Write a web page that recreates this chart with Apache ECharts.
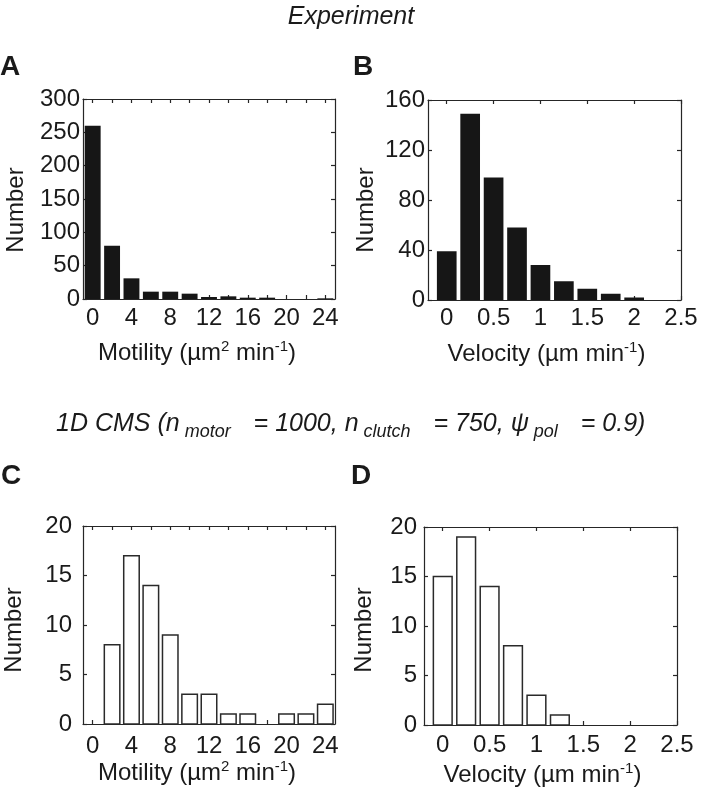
<!DOCTYPE html>
<html><head><meta charset="utf-8">
<script src="https://cdn.jsdelivr.net/npm/echarts@6.0.0/dist/echarts.min.js"></script>
<style>html,body{margin:0;padding:0;background:#fff}#c{width:702px;height:789px}</style>
</head><body><div id="c"></div>
<script>
// ---- data ----
const motilityBins = [0, 2, 4, 6, 8, 10, 12, 14, 16, 18, 20, 22, 24];
const expMotilityCounts = [260, 80, 31, 11, 11, 8, 3, 4, 2, 2, 0, 0, 1];
const simMotilityCounts = [0, 8, 17, 14, 9, 3, 3, 1, 1, 0, 1, 1, 2];
const velocityBins = [0, 0.25, 0.5, 0.75, 1.0, 1.25, 1.5, 1.75, 2.0];
const expVelocityCounts = [39, 149, 98, 58, 28, 15, 9, 5, 2];
const simVelocityCounts = [15, 19, 14, 8, 3, 1, 0, 0, 0];
const motilityTickLabels = [0, 4, 8, 12, 16, 20, 24];
const motilityTicks = [0, 2, 4, 6, 8, 10, 12, 14, 16, 18, 20, 22, 24];
const velocityTickLabels = [0, 0.5, 1, 1.5, 2, 2.5];
const velocityTicks = [0, 0.5, 1, 1.5, 2, 2.5];
const motilityBinWidth = 2;
const velocityBinWidth = 0.25;

const FONT = "'Liberation Sans', Arial, Helvetica, sans-serif";
const INK = '#1a1a1a';
const AXIS = '#262626';
const FS = 24;

function pairs(xs, ys) { return xs.map((x, i) => [x, ys[i]]); }

function histSeries(gridIdx, xs, ys, binW, frac, style) {
  return {
    type: 'custom', xAxisIndex: gridIdx * 2, yAxisIndex: gridIdx * 2,
    data: pairs(xs, ys), encode: { x: 0, y: 1 }, clip: false, z: 1,
    renderItem: function (params, api) {
      const x = api.value(0), y = api.value(1);
      if (!y) return null;
      const p0 = api.coord([x - binW * frac / 2, y]);
      const p1 = api.coord([x + binW * frac / 2, 0]);
      return { type: 'rect', shape: { x: p0[0], y: p0[1], width: p1[0] - p0[0], height: p1[1] - p0[1] }, style: style };
    }
  };
}

const nameRich = {
  a: { fontSize: FS, lineHeight: 28, fontFamily: FONT, color: INK },
  p: { fontSize: 15, lineHeight: 21, verticalAlign: 'top', fontFamily: FONT, color: INK }
};
const motilityName = '{a|Motility (µm}{p|2}{a| min}{p|-1}{a|)}';
const velocityName = '{a|Velocity (µm min}{p|-1}{a|)}';

const axLine = { show: true, onZero: false, lineStyle: { color: AXIS, width: 1.2 } };
const tickStyle = { color: AXIS, width: 1.2 };

function xAxesFor(g, min, max, labels, ticks, name, nameGap, margin, shift) {
  return [
    { gridIndex: g, type: 'value', position: 'bottom', min: min, max: max,
      axisLine: axLine, splitLine: { show: false },
      axisTick: { show: true, inside: true, length: 4, customValues: ticks, lineStyle: tickStyle },
      axisLabel: { show: true, customValues: labels, margin: margin, fontSize: FS, fontFamily: FONT, color: INK },
      name: name, nameLocation: 'middle', nameGap: nameGap,
      nameTextStyle: { rich: nameRich, padding: [0, shift * 2, 0, 0] } },
    { gridIndex: g, type: 'value', position: 'top', min: min, max: max,
      axisLine: axLine, splitLine: { show: false },
      axisTick: { show: true, inside: true, length: 4, customValues: ticks, lineStyle: tickStyle },
      axisLabel: { show: false } }
  ];
}
function yAxesFor(g, max, interval, nameGap, margin, shift) {
  return [
    { gridIndex: g, type: 'value', position: 'left', min: 0, max: max, interval: interval,
      axisLine: axLine, splitLine: { show: false },
      axisTick: { show: true, inside: true, length: 4, lineStyle: tickStyle },
      axisLabel: { margin: margin, fontSize: FS, fontFamily: FONT, color: INK },
      name: 'Number', nameLocation: 'middle', nameGap: nameGap,
      nameTextStyle: { fontSize: FS, fontFamily: FONT, color: INK, padding: [0, shift * 2, 0, 0] } },
    { gridIndex: g, type: 'value', position: 'right', min: 0, max: max, interval: interval,
      axisLine: axLine, splitLine: { show: false },
      axisTick: { show: true, inside: true, length: 4, lineStyle: tickStyle },
      axisLabel: { show: false } }
  ];
}

const filled = { fill: '#161616', stroke: null };
const hollow = { fill: '#ffffff', stroke: '#2a2a2a', lineWidth: 1.5 };

const panelLetter = (t, left, top) => ({ text: t, left: left, top: top, padding: 0,
  textStyle: { fontSize: 28, fontWeight: 'bold', fontFamily: FONT, color: INK } });

const option = {
  backgroundColor: '#ffffff',
  animation: false,
  title: [
    { text: 'Experiment', left: 'center', top: 5, padding: 0,
      textStyle: { fontStyle: 'italic', fontWeight: 'normal', fontSize: 25, fontFamily: FONT, color: INK } },
    { text: '{t|1D CMS (n}{s|motor}{t| = 1000, n}{s|clutch}{t| = 750, ψ}{s|pol}{t| = 0.9)}',
      left: 56, top: 407, padding: 0,
      textStyle: { fontWeight: 'normal', rich: {
        t: { fontSize: 25, lineHeight: 34, fontStyle: 'italic', fontWeight: 'normal', fontFamily: FONT, color: INK },
        s: { fontSize: 18, lineHeight: 18, verticalAlign: 'bottom', fontStyle: 'italic', fontWeight: 'normal', fontFamily: FONT, color: INK, padding: [0, 16, 0, 5] }
      } } },
    panelLetter('A', 0, 53),
    panelLetter('B', 353, 53),
    panelLetter('C', 1, 462),
    panelLetter('D', 351, 462)
  ],
  grid: [
    { left: 83, top: 99, width: 252, height: 200, outerBoundsMode: 'none', containLabel: false },
    { left: 428, top: 100, width: 253, height: 200, outerBoundsMode: 'none', containLabel: false },
    { left: 83, top: 526, width: 252, height: 198, outerBoundsMode: 'none', containLabel: false },
    { left: 424, top: 527, width: 253, height: 198, outerBoundsMode: 'none', containLabel: false }
  ],
  xAxis: [].concat(
    xAxesFor(0, -1, 25, motilityTickLabels, motilityTicks, motilityName, 40, 7, 12),
    xAxesFor(1, -0.2, 2.5, velocityTickLabels, velocityTicks, velocityName, 40, 6, 8),
    xAxesFor(2, -1, 25, motilityTickLabels, motilityTicks, motilityName, 34, 10, 12),
    xAxesFor(3, -0.2, 2.5, velocityTickLabels, velocityTicks, velocityName, 36, 8, 8)
  ),
  yAxis: [].concat(
    yAxesFor(0, 300, 50, 55, 3, 11),
    yAxesFor(1, 160, 40, 50, 3, 10),
    yAxesFor(2, 20, 5, 57, 11, 5),
    yAxesFor(3, 20, 5, 48, 7, 4)
  ),
  series: [
    histSeries(0, motilityBins, expMotilityCounts, motilityBinWidth, 0.82, filled),
    histSeries(1, velocityBins, expVelocityCounts, velocityBinWidth, 0.84, filled),
    histSeries(2, motilityBins, simMotilityCounts, motilityBinWidth, 0.8, hollow),
    histSeries(3, velocityBins, simVelocityCounts, velocityBinWidth, 0.8, hollow)
  ]
};
const chart = echarts.init(document.getElementById('c'), null, { renderer: 'canvas' });
chart.setOption(option);
</script>
</body></html>
